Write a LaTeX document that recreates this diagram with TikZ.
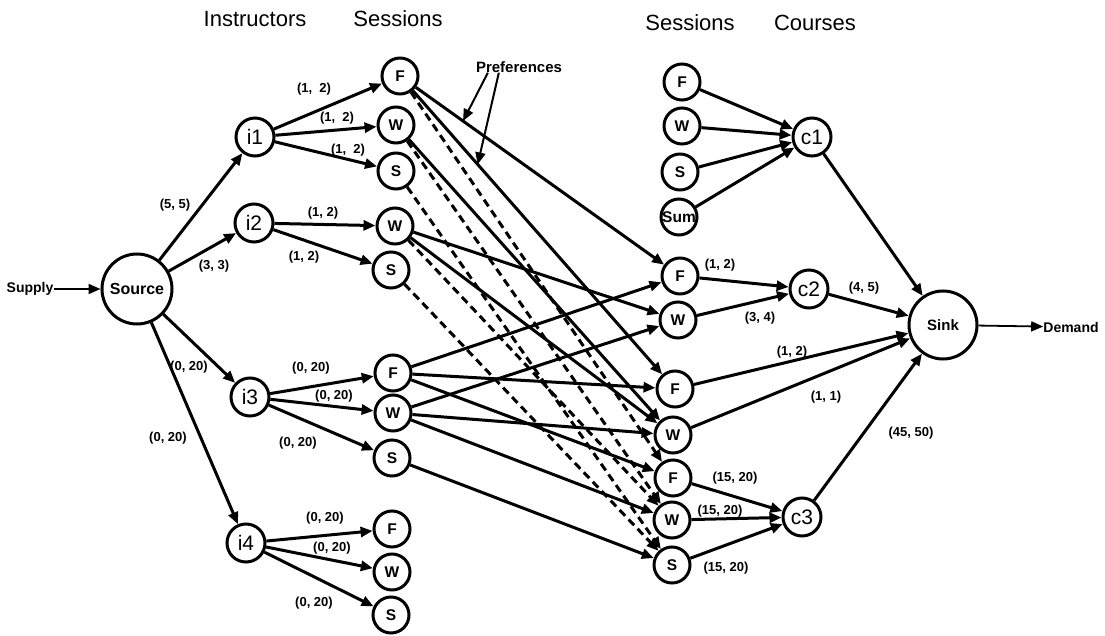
\documentclass[tikz,border=0pt]{standalone}
\usepackage{fontspec}
\setmainfont{Liberation Sans}
\usetikzlibrary{arrows.meta}

\begin{document}
\begin{tikzpicture}[x=1pt,y=-1pt]
\tikzstyle{mythick}=[line width=3pt]
\tikzstyle{sn}=[draw=black,circle,mythick,inner sep=0pt,minimum size=36pt,font=\fontsize{15.5}{15.5}\selectfont\bfseries]
\tikzstyle{inode}=[draw=black,circle,mythick,inner sep=0pt,minimum size=38pt,font=\fontsize{21}{21}\selectfont]
\tikzstyle{bn}=[draw=black,circle,mythick,inner sep=0pt,minimum size=70pt,font=\fontsize{16}{16}\selectfont\bfseries]
\tikzstyle{ed}=[draw=black,mythick,-{Triangle[length=12pt,width=10pt]}]
\tikzstyle{pref}=[ed,dash pattern=on 8pt off 5pt]
\tikzstyle{lb}=[font=\fontsize{13}{13}\selectfont\bfseries,inner sep=0pt]
\tikzstyle{ttl}=[font=\fontsize{22}{22}\selectfont]
\useasboundingbox (0,0) rectangle (1105,636);
% titles
\node [ttl] (t1) at (255,19) {Instructors};
\node [ttl] (t2) at (398,19) {Sessions};
\node [ttl] (t3) at (690,23) {Sessions};
\node [ttl] (t4) at (815,23) {Courses};
% source side
\node [bn] (src) at (137,289) {Source};
\node [lb,font=\fontsize{14}{14}\selectfont\bfseries] (supply) at (30,289) {Supply};
\node [inode] (i1) at (255,137) {i1};
\node [inode] (i2) at (254,223) {i2};
\node [inode] (i3) at (250,397) {i3};
\node [inode] (i4) at (246,543) {i4};
\node [sn] (f1) at (400,76) {F};
\node [sn] (w1) at (396,125) {W};
\node [sn] (s1) at (396,171) {S};
\node [sn] (w2) at (395,226) {W};
\node [sn] (s2) at (391,270) {S};
\node [sn] (f3) at (393,373) {F};
\node [sn] (w3) at (393,413) {W};
\node [sn] (s3) at (392,458) {S};
\node [sn] (f4) at (392,529) {F};
\node [sn] (w4) at (392,572) {W};
\node [sn] (s4) at (391,615) {S};
% course side
\node [sn] (rf) at (682,82) {F};
\node [sn] (rw) at (682,126) {W};
\node [sn] (rs) at (680,172) {S};
\node [sn] (rsum) at (679,217) {Sum};
\node [inode] (c1) at (812,137) {c1};
\node [sn] (fa) at (680,276) {F};
\node [sn] (wa) at (678,320) {W};
\node [inode] (c2) at (809,289) {c2};
\node [sn] (fb) at (675,389) {F};
\node [sn] (wb) at (673,435) {W};
\node [sn] (fc) at (673,478) {F};
\node [sn] (wc) at (672,520) {W};
\node [sn] (sc) at (672,565) {S};
\node [inode] (c3) at (802,517) {c3};
\node [bn,minimum size=68pt,font=\fontsize{15}{15}\selectfont\bfseries] (sink) at (943,325) {Sink};
\node [lb,font=\fontsize{14}{14}\selectfont\bfseries] (demand) at (1071,327) {Demand};
\node [lb,font=\fontsize{15}{15}\selectfont\bfseries] (prefs) at (519,67) {Preferences};
% supply and instructors
\draw [ed,line width=1.8pt] (supply) -- (src);
\draw [ed] (src) -- (i1);
\draw [ed] (src) -- (i2);
\draw [ed] (src) -- (i3);
\draw [ed] (src) -- (i4);
\draw [ed] (i1) -- (f1);
\draw [ed] (i1) -- (w1);
\draw [ed] (i1) -- (s1);
\draw [ed] (i2) -- (w2);
\draw [ed] (i2) -- (s2);
\draw [ed] (i3) -- (f3);
\draw [ed] (i3) -- (w3);
\draw [ed] (i3) -- (s3);
\draw [ed] (i4) -- (f4);
\draw [ed] (i4) -- (w4);
\draw [ed] (i4) -- (s4);
% sessions to sessions
\draw [ed] (f1) -- coordinate[pos=0.19] (pa) (fa);
\draw [ed] (f1) -- coordinate[pos=0.26] (pb) (fb);
\draw [ed] (w1) -- (wb);
\draw [ed] (w2) -- (wa);
\draw [ed] (w2) -- (wb);
\draw [ed] (f3) -- (fa);
\draw [ed] (f3) -- (fb);
\draw [ed] (f3) -- (fc);
\draw [ed] (w3) -- (wa);
\draw [ed] (w3) -- (wb);
\draw [ed] (w3) -- (wc);
\draw [ed] (s3) -- (sc);
\draw [pref] (f1) -- (fc);
\draw [pref] (w1) -- (wc);
\draw [pref] (w2) -- (wc);
\draw [pref] (s1) -- (sc);
\draw [pref] (s2) -- (sc);
\draw [ed,line width=2pt] (prefs.south west) ++(12,0) coordinate (q1) (q1) -- (pa);
\draw [ed,line width=2pt] (prefs.south west) ++(23,0) coordinate (q2) (q2) -- (pb);
% courses and sink
\draw [ed] (rf) -- (c1);
\draw [ed] (rw) -- (c1);
\draw [ed] (rs) -- (c1);
\draw [ed] (rsum) -- (c1);
\draw [ed] (c1) -- (sink);
\draw [ed] (fa) -- (c2);
\draw [ed] (wa) -- (c2);
\draw [ed] (c2) -- (sink);
\draw [ed] (fb) -- (sink);
\draw [ed] (wb) -- (sink);
\draw [ed] (fc) -- (c3);
\draw [ed] (wc) -- (c3);
\draw [ed] (sc) -- (c3);
\draw [ed] (c3) -- (sink);
\draw [ed,line width=1.8pt] (sink) -- (demand);
% flow bounds
\node [lb] (l1) at (175,205) {(5, 5)};
\node [lb] (l2) at (214,266) {(3, 3)};
\node [lb] (l3) at (189,367) {(0, 20)};
\node [lb] (l4) at (168,438) {(0, 20)};
\node [lb] (l5) at (314,89) {(1,\ \ 2)};
\node [lb] (l6) at (337,118) {(1,\ \ 2)};
\node [lb] (l7) at (348,150) {(1,\ \ 2)};
\node [lb] (l8) at (323,213) {(1, 2)};
\node [lb] (l9) at (304,257) {(1, 2)};
\node [lb] (l10) at (311,368) {(0, 20)};
\node [lb] (l11) at (334,396) {(0, 20)};
\node [lb] (l12) at (298,443) {(0, 20)};
\node [lb] (l13) at (325,518) {(0, 20)};
\node [lb] (l14) at (332,548) {(0, 20)};
\node [lb] (l15) at (314,603) {(0, 20)};
\node [lb] (l16) at (720,265) {(1, 2)};
\node [lb] (l17) at (760,318) {(3, 4)};
\node [lb] (l18) at (864,288) {(4, 5)};
\node [lb] (l19) at (792,352) {(1, 2)};
\node [lb] (l20) at (826,397) {(1, 1)};
\node [lb] (l21) at (911,433) {(45, 50)};
\node [lb] (l22) at (735,478) {(15, 20)};
\node [lb] (l23) at (720,511) {(15, 20)};
\node [lb] (l24) at (726,568) {(15, 20)};
\end{tikzpicture}
\end{document}
